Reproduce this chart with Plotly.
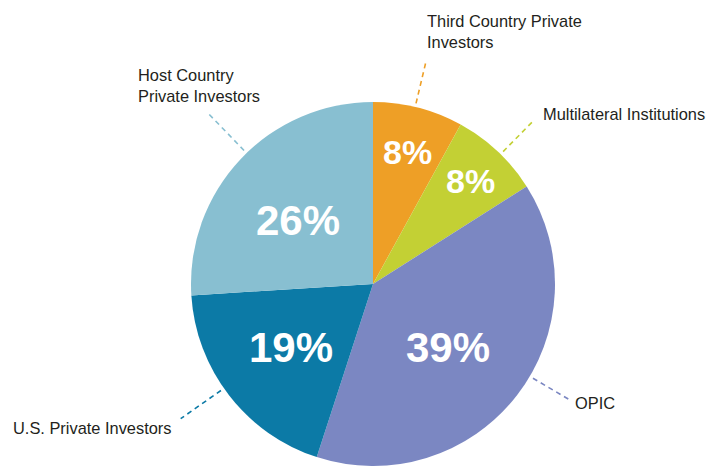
import math
import plotly.graph_objects as go

# ---- data ----
categories = ["Third Country Private Investors", "Multilateral Institutions", "OPIC",
              "U.S. Private Investors", "Host Country Private Investors"]
values = [8, 8, 39, 19, 26]
outside_labels = ["Third Country Private<br>Investors", "Multilateral Institutions", "OPIC",
                  "U.S. Private Investors", "Host Country<br>Private Investors"]
colors = ["#EE9F26", "#C3D034", "#7B87C2", "#0C7AA6", "#88BFD1"]

# ---- layout style ----
OFF = 8                      # page body margin in the browser
W, H = 716 - OFF, 466 - OFF  # figure size that fits the window
CX, CY, R = 373, 284, 182    # pie centre/radius in window pixels
text_r = [0.75, 0.78, 0.54, 0.57, 0.54]      # inside label radius fraction
text_ang_off = [0.4, 0.1, 2.6, 0.0, -3.0]     # small angle offsets (deg)
text_size = [34, 34, 42, 42, 42]
lead_ang_off = [-1.0, 1.3, -7.3, 2.8, 2.8]
lead_r0 = 1.02
lead_r1 = [1.26, 1.25, 1.25, 1.29, 1.30]
label_size = 16.4
# label anchor placement relative to leader end: (dx, dy, xanchor, yanchor)
lab_place = [(-1, -8, "left", "bottom"), (9, -8, "left", "middle"), (4, 4, "left", "middle"),
              (-7, 9, "right", "middle"), (-73, -7, "left", "bottom")]

def px2paper(x, y):
    return (x - OFF) / W, 1 - (y - OFF) / H

d0 = px2paper(CX - R, CY + R)
d1 = px2paper(CX + R, CY - R)
fig = go.Figure(go.Pie(
    labels=categories, values=values, sort=False, direction="clockwise", rotation=0,
    marker=dict(colors=colors, line=dict(width=0)),
    textinfo="none", hoverinfo="label+percent", showlegend=False,
    domain=dict(x=[d0[0], d1[0]], y=[max(0, d0[1]), min(1, d1[1])]),
))

total = sum(values)
cum = 0
shapes, annotations = [], []
for i, v in enumerate(values):
    mid = (cum + v / 2) / total * 360
    cum += v
    a = math.radians(mid + text_ang_off[i])
    tx = CX + text_r[i] * R * math.sin(a)
    ty = CY - text_r[i] * R * math.cos(a)
    px_, py_ = px2paper(tx, ty)
    annotations.append(dict(x=px_, y=py_, xref="paper", yref="paper", showarrow=False,
                            text=f"{round(v / total * 100)}%", xanchor="center", yanchor="middle",
                            font=dict(family="Liberation Sans, Arial, sans-serif", size=text_size[i],
                                      color="white", weight="bold")))
    b = math.radians(mid + lead_ang_off[i])
    x0 = CX + lead_r0 * R * math.sin(b); y0 = CY - lead_r0 * R * math.cos(b)
    x1 = CX + lead_r1[i] * R * math.sin(b); y1 = CY - lead_r1[i] * R * math.cos(b)
    p0 = px2paper(x0, y0); p1 = px2paper(x1, y1)
    shapes.append(dict(type="line", xref="paper", yref="paper", x0=p0[0], y0=p0[1], x1=p1[0], y1=p1[1],
                       line=dict(color=colors[i], width=1.6, dash="5px,4px")))
    dx, dy, xa, ya = lab_place[i]
    lx, ly = px2paper(x1 + dx, y1 + dy)
    annotations.append(dict(x=lx, y=ly, xref="paper", yref="paper", showarrow=False,
                            text=outside_labels[i], xanchor=xa, yanchor=ya, align="left",
                            font=dict(family="Liberation Sans, Arial, sans-serif", size=label_size,
                                      color="#231F20")))

fig.update_layout(width=W, height=H, margin=dict(l=0, r=0, t=0, b=0),
                  paper_bgcolor="white", plot_bgcolor="white",
                  shapes=shapes, annotations=annotations)
fig.write_html("out.html")
